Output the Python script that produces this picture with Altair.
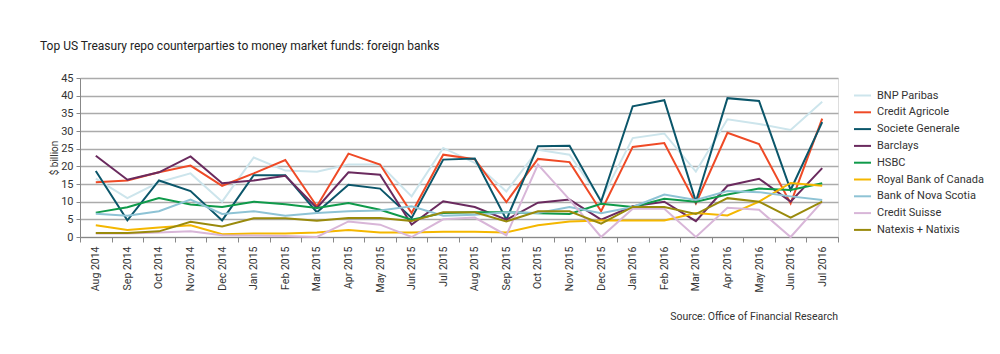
import altair as alt
import pandas as pd

months = ["Aug 2014", "Sep 2014", "Oct 2014", "Nov 2014", "Dec 2014", "Jan 2015",
          "Feb 2015", "Mar 2015", "Apr 2015", "May 2015", "Jun 2015", "Jul 2015",
          "Aug 2015", "Sep 2015", "Oct 2015", "Nov 2015", "Dec 2015", "Jan 2016",
          "Feb 2016", "Mar 2016", "Apr 2016", "May 2016", "Jun 2016", "Jul 2016"]

series_names = ["BNP Paribas", "Credit Agricole", "Societe Generale", "Barclays", "HSBC",
                "Royal Bank of Canada", "Bank of Nova Scotia", "Credit Suisse", "Natexis + Natixis"]

bnp = [16.5, 11, 15.5, 18, 10, 22.5, 18.8, 18.5, 20.5, 20.5, 11.5, 25.2,
       21, 12.9, 24.7, 23.3, 10.5, 28, 29.3, 18.5, 33.3, 32, 30.3, 38.3]
credit_agricole = [15.5, 16, 18.3, 20.2, 14.5, 18, 21.8, 8.7, 23.6, 20.5, 6.8, 23.3,
                   22, 9.9, 22.1, 21.2, 7.3, 25.5, 26.6, 9.5, 29.5, 26.3, 9.5, 33.5]
societe_generale = [18.7, 4.7, 16, 13, 4.7, 17.5, 17.5, 7, 14.8, 13.7, 5.4, 21.9,
                    22.2, 4.9, 25.7, 25.8, 10, 37, 38.7, 10, 39.3, 38.5, 13.3, 32.5]
barclays = [23, 16.2, 18.3, 22.8, 15.2, 16, 17.3, 8.2, 18.3, 17.6, 3.5, 10.1,
            8.5, 4.9, 9.7, 10.6, 4.9, 8.7, 10, 4.5, 14.5, 16.5, 10, 19.5]
hsbc = [6.9, 8.4, 11, 9.2, 8.5, 10, 9.3, 8.2, 9.6, 7.7, 4.9, 6.8,
        7, 7, 6.7, 6.5, 9.4, 8.5, 10.8, 10, 12, 13.7, 13.3, 15.2]
rbc = [3.3, 2, 2.7, 3.3, 0.8, 1, 1, 1.3, 2, 1.3, 1.3, 1.5,
       1.5, 1.3, 3.3, 4.4, 4.7, 4.7, 4.7, 6.8, 6.1, 10, 15.3, 14.5]
nova_scotia = [6.6, 6.0, 7.3, 10.6, 6.5, 7.3, 6.0, 6.8, 7.3, 7.5, 8.7, 6.0,
               6.3, 7, 6.8, 8.5, 6.7, 8.5, 12, 10.5, 13, 12.7, 11.5, 10.5]
credit_suisse = [1, 1, 1.3, 1.6, 0.5, 0.4, 0.3, 0, 4.4, 3.5, 0, 5,
                 5.5, 0.5, 20.5, 10.6, 0, 8, 8, 0, 8.3, 7.7, 0, 10]
natexis = [1.1, 1.1, 1.6, 4.3, 3, 5.3, 5.3, 4.6, 5.4, 5.4, 4.5, 7,
           7, 4.4, 7.3, 7.3, 3.8, 8.5, 8.5, 6.5, 11, 10, 5.5, 10]

colors = ["#cde5ec", "#ef4a26", "#0b566a", "#6a2a5e", "#0f9a4a",
          "#f4b700", "#8ec3d5", "#d8b6d8", "#998a0c"]

all_vals = [bnp, credit_agricole, societe_generale, barclays, hsbc,
            rbc, nova_scotia, credit_suisse, natexis]

title_text = "Top US Treasury repo counterparties to money market funds: foreign banks"
source_text = "Source: Office of Financial Research"

rows = []
for name, vals in zip(series_names, all_vals):
    for m, v in zip(months, vals):
        rows.append({"month": m, "bank": name, "value": v})
df = pd.DataFrame(rows)

FONT = "Roboto"
TXT = "#333333"

lines = alt.Chart(df).mark_line(strokeWidth=2).encode(
    x=alt.X("month:N", sort=months,
            scale=alt.Scale(type="band", paddingInner=0, paddingOuter=0),
            axis=alt.Axis(title=None, labelAngle=-90, labelAlign="right", labelBaseline="middle",
                          tickBand="extent", tickSize=5, tickColor="#888888",
                          domainColor="#888888", labelFont=FONT, labelFontSize=10.5,
                          labelColor=TXT, labelPadding=4, grid=False)),
    y=alt.Y("value:Q", scale=alt.Scale(domain=[0, 45], nice=False),
            axis=alt.Axis(values=list(range(0, 50, 5)), title="$ billion", grid=True,
                          gridColor="#ababab", gridWidth=1.3, tickSize=4, tickColor="#888888",
                          domainColor="#888888", labelFont=FONT, labelFontSize=11,
                          labelColor=TXT, labelPadding=3, titleFont=FONT, titleFontSize=10,
                          titleFontWeight="normal", titleColor=TXT, titlePadding=1)),
    color=alt.Color("bank:N", sort=series_names,
                    scale=alt.Scale(domain=series_names, range=colors),
                    legend=alt.Legend(title=None, orient="none", legendX=773, legendY=8,
                                      symbolType="stroke", symbolSize=289, symbolStrokeWidth=2,
                                      labelFont=FONT, labelFontSize=11, labelColor=TXT,
                                      rowPadding=1.8, padding=0, labelOffset=5)),
)

source = alt.Chart(pd.DataFrame({"t": [source_text]})).mark_text(
    align="right", baseline="middle", font=FONT, fontSize=10.5, color=TXT
).encode(text="t:N", x=alt.value(758), y=alt.value(239))

chart = alt.layer(lines, source).properties(
    width=758, height=159,
    autosize=alt.AutoSizeParams(type="none"),
    padding={"left": 80, "top": 78, "right": 162, "bottom": 117},
    title=alt.Title(title_text, anchor="start", frame="group", dx=-40, offset=19,
                    font=FONT, fontSize=12, fontWeight="normal", color="#222222"),
).configure_view(strokeWidth=0).configure(background="white")

chart.save("out.html", embed_options={"renderer": "svg", "actions": False})
